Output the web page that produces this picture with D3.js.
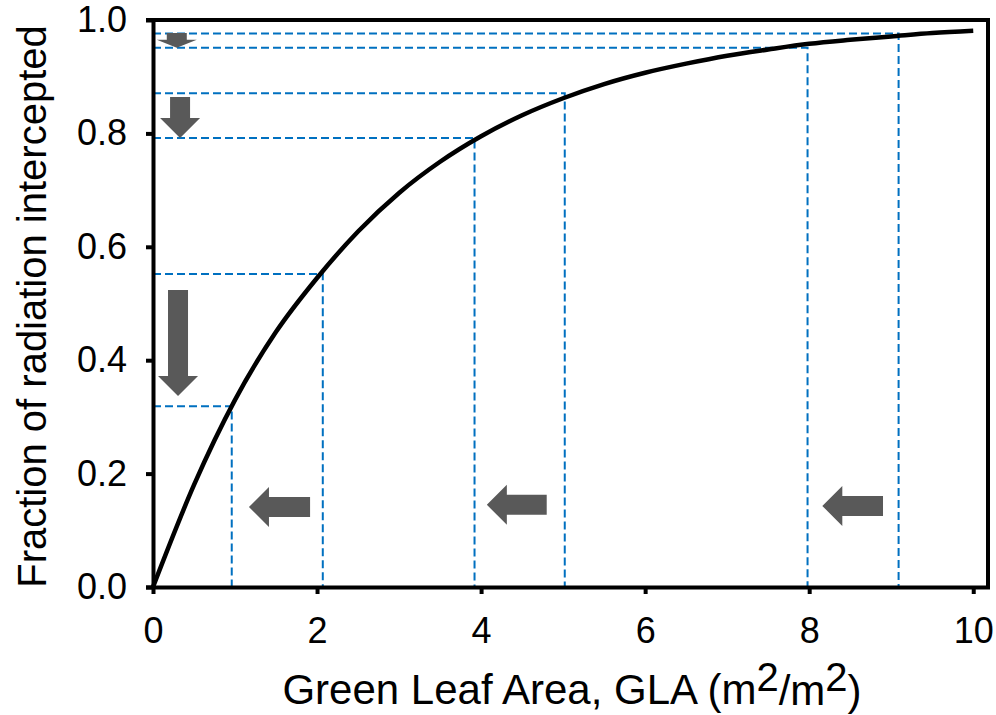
<!DOCTYPE html>
<html>
<head>
<meta charset="utf-8">
<script src="https://cdn.jsdelivr.net/npm/d3@7"></script>
<style>
  html, body { margin: 0; padding: 0; background: #fff; }
  svg { display: block; font-family: "Liberation Sans", Arial, sans-serif; }
</style>
</head>
<body>
<svg id="chart" width="996" height="715"></svg>
<script>
// ---- data ----
const curveX = [0, 0.5, 1, 1.5, 2, 2.5, 3, 3.5, 4, 4.5, 5, 5.5, 6, 6.5, 7, 7.5, 8, 8.5, 9, 9.5, 10];
const curveY = [0, 0.18, 0.33, 0.45, 0.545, 0.627, 0.695, 0.75, 0.795, 0.832, 0.862, 0.887, 0.907, 0.923, 0.937, 0.948, 0.958, 0.965, 0.971, 0.977, 0.981];

const guideX = [0.96, 2.07, 3.92, 5.02, 7.98, 9.09];
const guideY = [0.319, 0.552, 0.792, 0.871, 0.951, 0.976];

// left-pointing arrows: tip x, tail x, y
const leftArrowTip  = [1.17, 4.07, 8.16];
const leftArrowTail = [1.915, 4.80, 8.90];
const leftArrowY    = [0.141, 0.145, 0.143];

// down-pointing arrows: x, top y, tip y
const downArrowX    = [0.29, 0.33, 0.305];
const downArrowTop  = [0.977, 0.864, 0.524];
const downArrowTip  = [0.951, 0.792, 0.337];

const xTicks = [0, 2, 4, 6, 8, 10];
const yTicks = [0, 0.2, 0.4, 0.6, 0.8, 1.0];

const xTitle = "Green Leaf Area, GLA (m";
const yTitle = "Fraction of radiation intercepted";

(function () {
// ---- layout ----
const svg = d3.select("#chart");
const mL = 153, mR = 988, mT = 20, mB = 587;
const x = d3.scaleLinear().domain([0, 10.18]).range([mL, mR]);
const y = d3.scaleLinear().domain([0, 1]).range([mB, mT]);

const blue = "#0070C0";
const grey = "#595959";

// dashed guide lines
const guides = guideX.map((gx, i) => ({ x: gx, y: guideY[i] }));
svg.append("g").selectAll("path").data(guides).join("path")
  .attr("d", d => `M${x(0)},${y(d.y)}H${x(d.x)}V${y(0)}`)
  .attr("fill", "none")
  .attr("stroke", blue)
  .attr("stroke-width", 2)
  .attr("stroke-dasharray", "8,4");

// curve
const pts = curveX.map((cx, i) => [cx, curveY[i]]);
svg.append("path")
  .datum(pts)
  .attr("d", d3.line().x(d => x(d[0])).y(d => y(d[1])).curve(d3.curveMonotoneX))
  .attr("fill", "none")
  .attr("stroke", "#000")
  .attr("stroke-width", 4.5);

// frame (top and right)
svg.append("path")
  .attr("d", `M${x(0) - 7},${mT}H${mR}V${mB + 2}`)
  .attr("fill", "none")
  .attr("stroke", "#000")
  .attr("stroke-width", 4);

// axes
const xAxis = d3.axisBottom(x).tickValues(xTicks).tickSize(7).tickSizeOuter(0).tickFormat(d3.format("d"));
const gx = svg.append("g").attr("transform", `translate(0,${mB})`).call(xAxis);
gx.select(".domain").attr("stroke-width", 4).attr("d", `M${x(0) - 7},0.5H${mR + 2}`);
gx.selectAll(".tick line").attr("stroke-width", 4);
gx.selectAll(".tick text").attr("font-size", 36).attr("font-family", "Liberation Sans, Arial, sans-serif")
  .attr("fill", "#000").attr("y", 30).attr("dy", "0.71em");

const yAxis = d3.axisLeft(y).tickValues(yTicks).tickSize(7).tickSizeOuter(0).tickFormat(d3.format(".1f"));
const gy = svg.append("g").attr("transform", `translate(${mL},0)`).call(yAxis);
gy.select(".domain").attr("stroke-width", 4).attr("d", `M0.5,${mB + 2}V${mT - 2}`);
gy.selectAll(".tick line").attr("stroke-width", 4);
gy.selectAll(".tick text").attr("font-size", 36).attr("font-family", "Liberation Sans, Arial, sans-serif")
  .attr("fill", "#000").attr("x", -26);

// arrows
const shaftW = 20, headW = 40, headMax = 20;
function arrowPath(x1, y1, x2, y2) {
  const dx = x2 - x1, dy = y2 - y1;
  const len = Math.hypot(dx, dy);
  const ux = dx / len, uy = dy / len;
  const px = -uy, py = ux;
  const hl = Math.min(headMax, len * 0.55);
  const bx = x2 - ux * hl, by = y2 - uy * hl;
  const p = [
    [x1 + px * shaftW / 2, y1 + py * shaftW / 2],
    [bx + px * shaftW / 2, by + py * shaftW / 2],
    [bx + px * headW / 2, by + py * headW / 2],
    [x2, y2],
    [bx - px * headW / 2, by - py * headW / 2],
    [bx - px * shaftW / 2, by - py * shaftW / 2],
    [x1 - px * shaftW / 2, y1 - py * shaftW / 2]
  ];
  return "M" + p.map(q => q.join(",")).join("L") + "Z";
}
const leftArrows = leftArrowTip.map((t, i) => ({ tip: t, tail: leftArrowTail[i], y: leftArrowY[i] }));
svg.append("g").selectAll("path").data(leftArrows).join("path")
  .attr("d", d => arrowPath(x(d.tail), y(d.y), x(d.tip), y(d.y)))
  .attr("fill", grey);

const downArrows = downArrowX.map((ax, i) => ({ x: ax, t: downArrowTop[i], tip: downArrowTip[i] }));
svg.append("g").selectAll("path").data(downArrows).join("path")
  .attr("d", d => arrowPath(x(d.x), y(d.t), x(d.x), y(d.tip)))
  .attr("fill", grey);

// titles
const xt = svg.append("text")
  .attr("x", 572)
  .attr("y", 704)
  .attr("text-anchor", "middle")
  .attr("font-size", 42)
  .attr("fill", "#000");
xt.append("tspan").text(xTitle);
xt.append("tspan").attr("dy", "-0.33em").attr("font-size", 40).text("2");
xt.append("tspan").attr("dy", "0.33em").text("/m");
xt.append("tspan").attr("dy", "-0.33em").attr("font-size", 40).text("2");
xt.append("tspan").attr("dy", "0.33em").text(")");

svg.append("text")
  .attr("transform", `translate(46,${(mT + mB) / 2 + 3}) rotate(-90)`)
  .attr("text-anchor", "middle")
  .attr("font-size", 40)
  .attr("fill", "#000")
  .text(yTitle);
})();
</script>
</body>
</html>
